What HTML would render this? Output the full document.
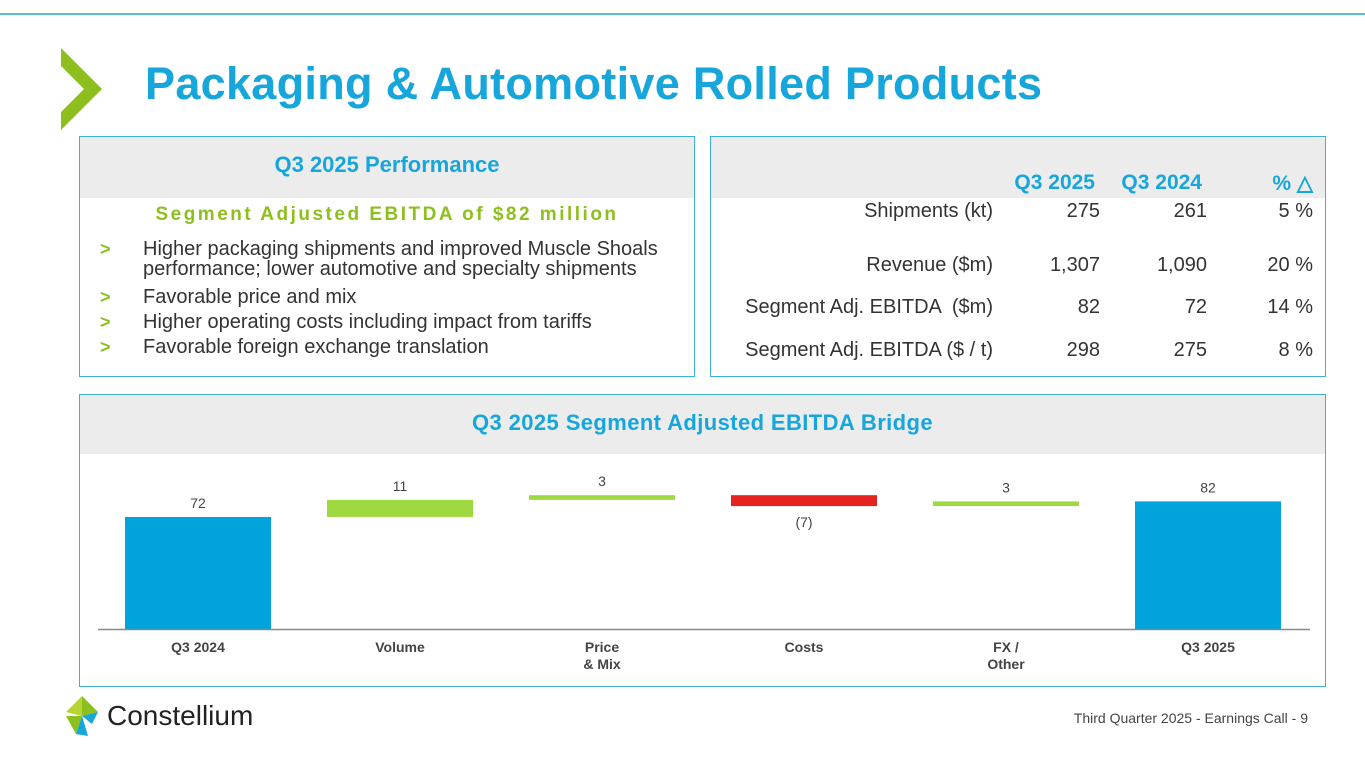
<!DOCTYPE html>
<html><head><meta charset="utf-8"><style>
body{margin:0;width:1365px;height:768px;background:#fff;font-family:"Liberation Sans",sans-serif;position:relative;overflow:hidden}
.abs{position:absolute}
.box{position:absolute;border:1.5px solid #3fb0d8;box-sizing:border-box}
.hdr{background:#ececec;color:#16a6dc;font-weight:bold;text-align:center;font-size:22px}
.row{position:absolute;font-size:20px;color:#333}
.bul{position:absolute;left:20px;font-size:20px;color:#333;line-height:20px}
.bul b{color:#8dbf1f;display:inline-block;width:43px;font-size:18px}
</style></head><body>
<div class="abs" style="left:0;top:13px;width:1365px;height:2px;background:#5bb8d8"></div>
<svg class="abs" style="left:0;top:0" width="110" height="140"><polygon points="61,48 102,89 61,130 61,112 84,89 61,66" fill="#8dbf1f"/></svg>
<div class="abs" style="left:145px;top:58px;font-size:45px;font-weight:bold;color:#16a6dc;letter-spacing:0.3px">Packaging &amp; Automotive Rolled Products</div>

<div class="box" style="left:79px;top:136px;width:616px;height:241px">
<div class="hdr" style="height:61px;line-height:56px">Q3 2025 Performance</div>
<div class="abs" style="left:0;width:100%;top:67px;text-align:center;color:#8dbf1f;font-weight:bold;font-size:19px;letter-spacing:2.5px">Segment Adjusted EBITDA of $82 million</div>
<div class="bul" style="top:102px"><b>&gt;</b>Higher packaging shipments and improved Muscle Shoals<br><span style="margin-left:43px">performance; lower automotive and specialty shipments</span></div>
<div class="bul" style="top:150px"><b>&gt;</b>Favorable price and mix</div>
<div class="bul" style="top:175px"><b>&gt;</b>Higher operating costs including impact from tariffs</div>
<div class="bul" style="top:200px"><b>&gt;</b>Favorable foreign exchange translation</div>
</div>

<div class="box" style="left:710px;top:136px;width:616px;height:241px">
<div class="hdr" style="height:61px"></div>
<div class="row" style="top:34px;left:0;width:100%;font-weight:bold;color:#16a6dc;font-size:21px">
<span class="abs" style="right:230px">Q3 2025</span><span class="abs" style="right:123px">Q3 2024</span><span class="abs" style="right:12px">% △</span></div>
<div id="rows"></div>
</div>

<div class="box" style="left:79px;top:394px;width:1247px;height:293px">
<div class="hdr" style="height:59px;line-height:56px;letter-spacing:0.4px">Q3 2025 Segment Adjusted EBITDA Bridge</div>
</div>
<svg id="chart" class="abs" style="left:0;top:0" width="1365" height="768"></svg>

<svg class="abs" style="left:62px;top:694px" width="40" height="44">
<polygon points="20,2 36,18 20,22" fill="#8dbf1f"/><polygon points="4,18 20,2 20,22" fill="#b7d433"/><polygon points="20,22 36,18 30,30" fill="#16a6dc"/><polygon points="4,22 20,22 14,40" fill="#8dbf1f"/><polygon points="14,40 20,22 26,42" fill="#16a6dc"/></svg>
<div class="abs" style="left:107px;top:700px;font-size:28px;color:#222">Constellium</div>
<div class="abs" style="right:57px;top:710px;font-size:14px;color:#444">Third Quarter 2025 - Earnings Call - 9</div>

<script>
const rowLabels=["Shipments (kt)","Revenue ($m)","Segment Adj. EBITDA  ($m)","Segment Adj. EBITDA ($ / t)"];
const q3_2025=["275","1,307","82","298"];
const q3_2024=["261","1,090","72","275"];
const pct=["5 %","20 %","14 %","8 %"];
const rowTops=[63,117,159,202];
const rc=document.getElementById('rows');
rowLabels.forEach((l,i)=>{const d=document.createElement('div');d.className='row';


d.style.top=rowTops[i]+'px';d.style.left='0';d.style.width='100%';
d.innerHTML=`<span class="abs" style="right:332px;white-space:pre">${l}</span><span class="abs" style="right:225px">${q3_2025[i]}</span><span class="abs" style="right:118px">${q3_2024[i]}</span><span class="abs" style="right:12px">${pct[i]}</span>`;rc.appendChild(d);});

const categories=["Q3 2024","Volume","Price\n& Mix","Costs","FX /\nOther","Q3 2025"];
const deltas=[72,11,3,-7,3,82];
const labels=["72","11","3","(7)","3","82"];
const NS='http://www.w3.org/2000/svg',svg=document.getElementById('chart');
const base=629,k=1.556,x0=198,step=202,bw=146;
const y=v=>base-v*k;
function el(t,a){const e=document.createElementNS(NS,t);for(const n in a)e.setAttribute(n,a[n]);svg.appendChild(e);return e;}
let run=0;
categories.forEach((c,i)=>{const cx=x0+i*step;let top,bot,col;const total=(i==0||i==categories.length-1);
if(total){top=y(deltas[i]);bot=base;col='#00a3dc';run=deltas[i];}
else{const a=run,b=run+deltas[i];top=y(Math.max(a,b));bot=y(Math.min(a,b));col=deltas[i]<0?'#e52421':'#9ed93f';run=b;}
const r=el('rect',{x:cx-bw/2,y:top,width:bw,height:Math.max(bot-top,1),fill:col});


const ly=deltas[i]<0&&!total?bot+21:top-9;
const t=el('text',{x:cx,y:ly,'text-anchor':'middle','font-size':14,fill:'#444'});t.textContent=labels[i];


c.split('\n').forEach((s,j)=>{const tt=el('text',{x:cx,y:652+j*17,'text-anchor':'middle','font-size':14,'font-weight':'bold',fill:'#444'});tt.textContent=s;

});
});
const ax=el('line',{x1:98,x2:1310,y1:base+0.5,y2:base+0.5,stroke:'#888','stroke-width':1.5});


</script>
</body></html>
